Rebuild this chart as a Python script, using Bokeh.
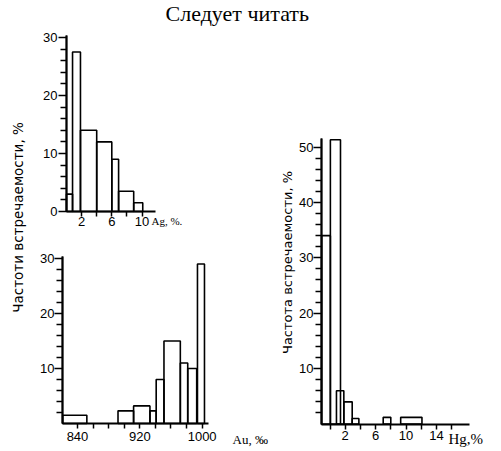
from math import pi
from bokeh.plotting import figure
from bokeh.models import FixedTicker, LinearAxis, Range1d
from bokeh.core.properties import value
from bokeh.embed import file_html
from bokeh.resources import INLINE

# ---------------- data ----------------
TITLE = "Следует    читать"
YLABEL_LEFT = "Частоти встречаемости, %"
YLABEL_RIGHT = "Частота встречаемости, %"

# Ag histogram (Ag, %)
ag_left = [0.0, 0.8, 1.85, 4.0, 6.0, 6.9, 8.9]
ag_right = [0.8, 1.85, 4.0, 6.0, 6.9, 8.9, 10.1]
ag_freq = [3.0, 27.5, 14.0, 12.0, 9.0, 3.5, 1.5]
ag_xticks = [2, 4, 6, 8, 10]
ag_xtick_labels = {2: "2", 4: "", 6: "6", 8: "", 10: "10"}
ag_yticks = [0, 10, 20, 30]
ag_name = "Ag, %."

# Au histogram (fineness, per mille)
au_left = [821, 892, 912, 933, 941, 951, 972, 981.5, 994]
au_right = [852, 912, 933, 941, 951, 972, 981.5, 993, 1003]
au_freq = [1.5, 2.3, 3.2, 2.3, 8.0, 15.0, 11.0, 10.0, 29.0]
au_xticks = [840, 860, 880, 900, 920, 940, 960, 980, 1000]
au_xtick_labels = {840: "840", 860: "", 880: "", 900: "", 920: "920",
                   940: "", 960: "", 980: "", 1000: "1000"}
au_yticks = [10, 20, 30]
au_name = "Au, ‰"

# Hg histogram (Hg, %)
hg_left = [-1.1, 0.05, 0.85, 1.82, 2.92, 7.0, 9.3]
hg_right = [0.05, 1.38, 1.82, 2.92, 3.8, 8.0, 12.1]
hg_freq = [34.0, 51.3, 6.0, 4.0, 1.0, 1.2, 1.2]
hg_xticks = [0, 2, 4, 6, 8, 10, 12, 14, 16]
hg_xtick_labels = {0: "", 2: "2", 4: "", 6: "6", 8: "", 10: "10",
                   12: "", 14: "14", 16: ""}
hg_yticks = [10, 20, 30, 40, 50]
hg_name = "Hg,%"

SANS = "Liberation Sans"
SERIF = "Liberation Serif"
W, H = 500, 450

p = figure(width=W, height=H, x_range=Range1d(0, W), y_range=Range1d(0, H),
           toolbar_location=None, output_backend="svg",
           x_axis_location=None, y_axis_location=None, min_border=0)
p.outline_line_color = None
p.grid.visible = False
p.background_fill_color = "white"
p.border_fill_color = "white"


def panel(name, x_pix0, v0, kx, y_pix0, ky, xbounds, ytop,
          left, right, freq, xticks, xlabels, yticks, x_standoff, y_standoff):
    # ranges of this panel, mapped onto the shared frame
    p.extra_x_ranges[name + "x"] = Range1d(v0 - x_pix0 / kx, v0 + (W - x_pix0) / kx)
    p.extra_y_ranges[name + "y"] = Range1d((y_pix0 - H) / ky, y_pix0 / ky)
    rn = dict(x_range_name=name + "x", y_range_name=name + "y")
    p.quad(left=left, right=right, bottom=0, top=freq, fill_color=None,
           line_color="black", line_width=1.6, **rn)

    def style(ax):
        ax.axis_line_color = "black"
        ax.axis_line_width = 1.8
        ax.major_tick_line_color = "black"
        ax.major_tick_line_width = 1.5
        ax.major_tick_in = 0
        ax.minor_tick_line_color = None
        ax.major_label_text_font = SANS
        ax.major_label_text_color = "black"
        ax.major_label_text_font_size = "13px"

    xa = LinearAxis(fixed_location=0, bounds=xbounds,
                    ticker=FixedTicker(ticks=xticks, minor_ticks=[]),
                    major_label_overrides=xlabels, **rn)
    style(xa)
    xa.major_tick_out = 5
    xa.major_label_standoff = x_standoff
    p.add_layout(xa, "below")

    # short ticks every 2 units (no labels)
    small = [v for v in range(2, int(ytop) + 1, 2) if v not in yticks]
    ya2 = LinearAxis(fixed_location=xbounds[0], bounds=(-0.05, ytop),
                     ticker=FixedTicker(ticks=small, minor_ticks=[]),
                     major_label_overrides={v: "" for v in small}, **rn)
    style(ya2)
    ya2.major_tick_out = 6
    p.add_layout(ya2, "left")

    ya = LinearAxis(fixed_location=xbounds[0], bounds=(-0.05, ytop),
                    ticker=FixedTicker(ticks=yticks, minor_ticks=[]), **rn)
    style(ya)
    ya.major_tick_out = 8
    ya.major_label_standoff = y_standoff
    p.add_layout(ya, "left")
    return rn


def name_text(rn, x, y, text, size):
    p.text(x=[x], y=[y], text=[text], text_font=value(SERIF),
           text_font_size=size, text_align="left", text_baseline="middle",
           text_color="black", **rn)


# Ag: 0 at x=66 px, 7.55 px per %; baseline y=211 px, 5.8 px per %
rn_ag = panel("ag", 66, 0, 7.55, 211, 5.8, (0, 11.8), 30.34,
              ag_left, ag_right, ag_freq, ag_xticks, ag_xtick_labels,
              ag_yticks, 0, 1)
name_text(rn_ag, 11.26, -1.72, ag_name, "11px")

# Au: 840 at x=77 px, 0.779 px per unit; baseline y=423 px, 5.5 px per %
rn_au = panel("au", 77, 840, 0.779, 423, 5.5, (820.74, 1008.16), 30.36,
              au_left, au_right, au_freq, au_xticks, au_xtick_labels,
              au_yticks, 3, 0)
name_text(rn_au, 1038.97, -2.91, au_name, "13px")

# Hg: 0 at x=329.5 px, 7.6 px per %; baseline y=423.5 px, 5.54 px per %
rn_hg = panel("hg", 329.5, 0, 7.6, 423.5, 5.54, (-1.118, 18.35), 51.53,
              hg_left, hg_right, hg_freq, hg_xticks, hg_xtick_labels,
              hg_yticks, 2, 0)
name_text(rn_hg, 15.59, -2.62, hg_name, "15px")

# title and vertical axis titles (in frame pixel coordinates, y up)
p.text(x=[245], y=[H - 12.7], text=[TITLE], text_font=value(SERIF),
       text_font_size="22px", text_align="center", text_baseline="middle",
       text_color="black")
p.text(x=[17.5], y=[H - 217], text=[YLABEL_LEFT], angle=pi / 2,
       text_font=value("DejaVu Sans"), text_font_size="13.5px",
       text_align="center", text_baseline="middle", text_color="black")
p.text(x=[287], y=[H - 262], text=[YLABEL_RIGHT], angle=pi / 2,
       text_font=value("DejaVu Sans"), text_font_size="13px",
       text_align="center", text_baseline="middle", text_color="black")

open("out.html", "w").write(file_html(p, INLINE))
